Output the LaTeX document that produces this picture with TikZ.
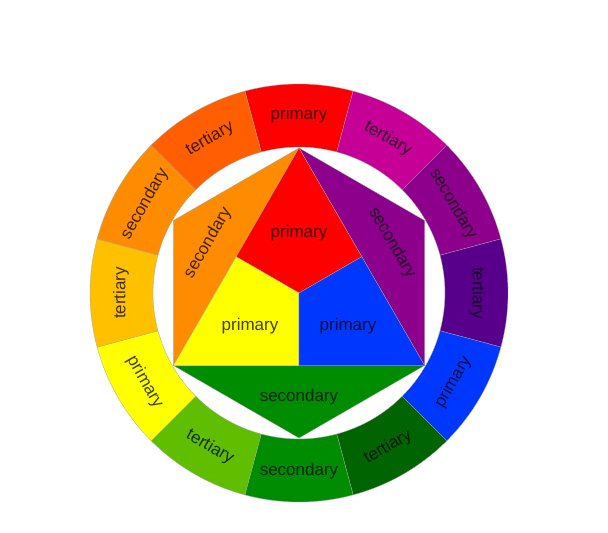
\documentclass[tikz,border=0pt]{standalone}
\usepackage{fontspec}
\setmainfont{Liberation Sans}
\usepackage{tikz}
\usetikzlibrary{calc}
\definecolor{wheelred}{RGB}{255, 0, 0}
\definecolor{redviolet}{RGB}{198, 0, 150}
\definecolor{wheelpurple}{RGB}{140, 0, 140}
\definecolor{blueviolet}{RGB}{88, 0, 140}
\definecolor{wheelblue}{RGB}{0, 55, 255}
\definecolor{darkgreen}{RGB}{0, 100, 0}
\definecolor{wheelgreen}{RGB}{0, 140, 0}
\definecolor{yellowgreen}{RGB}{95, 190, 0}
\definecolor{wheelyellow}{RGB}{255, 255, 0}
\definecolor{yelloworange}{RGB}{255, 192, 0}
\definecolor{wheelorange}{RGB}{255, 140, 0}
\definecolor{redorange}{RGB}{255, 95, 0}

\begin{document}
\begin{tikzpicture}[x=1pt, y=1pt,
    lbl/.style={text=black, text opacity=0.75, inner sep=0pt, font=\fontsize{17}{19}\selectfont},
    seg/.style={draw=black!35, line width=0.3pt}]
    \useasboundingbox (-299, -240) rectangle (309, 293);
    \def\rin{146}
    \def\rout{209}
    \def\rmid{178}

    % Outer ring
    \foreach \ang/\rot/\col/\word [count=\i] in {90/0/wheelred/primary, 60/-30/redviolet/tertiary,
        30/-60/wheelpurple/secondary, 0/-90/blueviolet/tertiary, -30/60/wheelblue/primary,
        -60/30/darkgreen/tertiary, -90/0/wheelgreen/secondary, -120/-30/yellowgreen/tertiary,
        -150/-60/wheelyellow/primary, 180/90/yelloworange/tertiary, 150/60/wheelorange/secondary,
        120/30/redorange/tertiary} {
        \filldraw[fill=\col, seg] (\ang-15:\rin) arc[start angle=\ang-15, end angle=\ang+15, radius=\rin]
            -- (\ang+15:\rout) arc[start angle=\ang+15, end angle=\ang-15, radius=\rout] -- cycle;
        \node[lbl, rotate=\rot] (ring\i) at (\ang:\rmid) {\word};
    }

    % Hexagon corners
    \coordinate (O) at (0, 0);
    \coordinate (T) at (90:145);
    \coordinate (UL) at (150:145);
    \coordinate (LL) at (210:145);
    \coordinate (B) at (270:145);
    \coordinate (LR) at (330:145);
    \coordinate (UR) at (30:145);
    \coordinate (ML) at ($(T)!0.5!(LL)$);
    \coordinate (MR) at ($(T)!0.5!(LR)$);
    \coordinate (MB) at ($(LL)!0.5!(LR)$);

    % Secondary triangles
    \filldraw[fill=wheelorange, seg] (T) -- (UL) -- (LL) -- cycle;
    \filldraw[fill=wheelpurple, seg] (T) -- (UR) -- (LR) -- cycle;
    \filldraw[fill=wheelgreen, seg] (LL) -- (B) -- (LR) -- cycle;

    % Primary triangle
    \filldraw[fill=wheelred, seg] (T) -- (MR) -- (O) -- (ML) -- cycle;
    \filldraw[fill=wheelyellow, seg] (LL) -- (ML) -- (O) -- (MB) -- cycle;
    \filldraw[fill=wheelblue, seg] (LR) -- (MB) -- (O) -- (MR) -- cycle;

    % Labels
    \node[lbl] (redlbl) at (0, 60) {primary};
    \node[lbl] (yellowlbl) at (-49, -33) {primary};
    \node[lbl] (bluelbl) at (49, -33) {primary};
    \node[lbl] (greenlbl) at (0, -104) {secondary};
    \node[lbl, rotate=60] (orangelbl) at (-91, 50) {secondary};
    \node[lbl, rotate=-60] (purplelbl) at (93, 50) {secondary};
\end{tikzpicture}
\end{document}
